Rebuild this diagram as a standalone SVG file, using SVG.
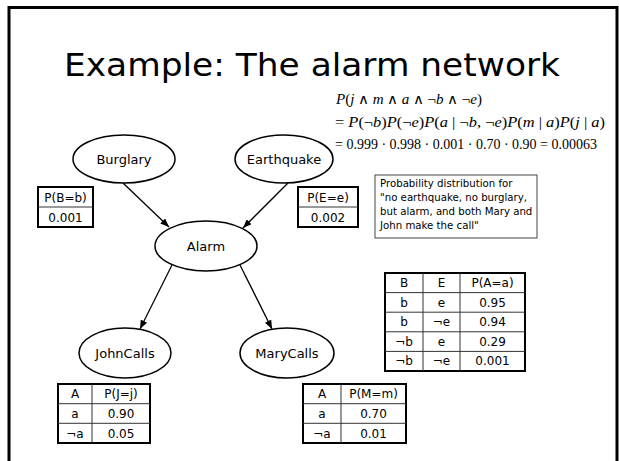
<svg xmlns="http://www.w3.org/2000/svg" width="619" height="461" viewBox="0 0 619 461">
<style>
  .lbl{font-family:"DejaVu Sans","Liberation Sans",sans-serif;font-size:13px;fill:#000;text-anchor:middle}
  .node ellipse{fill:#fff;stroke:#000;stroke-width:1.5}
  .edge{stroke:#000;stroke-width:1.3;fill:none;marker-end:url(#arr)}
  .outer{fill:#fff;stroke:#000;stroke-width:2}
  .grid{stroke:#333;stroke-width:1}
  .cell{font-family:"DejaVu Sans","Liberation Sans",sans-serif;font-size:12px;text-anchor:middle;fill:#000}
  .note{font-family:"DejaVu Sans","Liberation Sans",sans-serif;font-size:10.2px;fill:#000}
  .math{font-family:"Liberation Serif","Times New Roman",serif;font-size:14px;fill:#000}
  .i{font-style:italic}
</style>
<defs>
  <marker id="arr" viewBox="0 0 10 8" refX="10" refY="4" markerWidth="9" markerHeight="7" markerUnits="userSpaceOnUse" orient="auto">
    <path d="M0,0 L10,4 L0,8 z" fill="#000"/>
  </marker>
</defs>
<rect width="619" height="461" fill="#fff"/>
<!-- slide frame, open at the bottom -->
<path d="M9,462 V7.5 H617 V462" fill="none" stroke="#000" stroke-width="3"/>

<text x="312" y="76" font-family="DejaVu Sans, sans-serif" font-size="32" text-anchor="middle" textLength="496" lengthAdjust="spacingAndGlyphs">Example: The alarm network</text>

<!-- joint probability computation -->
<g id="formula" class="math">
  <text x="336" y="104" textLength="146" lengthAdjust="spacingAndGlyphs"><tspan class="i">P</tspan>(<tspan class="i">j</tspan> ∧ <tspan class="i">m</tspan> ∧ <tspan class="i">a</tspan> ∧ ¬<tspan class="i">b</tspan> ∧ ¬<tspan class="i">e</tspan>)</text>
  <text x="335" y="127" textLength="270" lengthAdjust="spacingAndGlyphs">= <tspan class="i">P</tspan>(¬<tspan class="i">b</tspan>)<tspan class="i">P</tspan>(¬<tspan class="i">e</tspan>)<tspan class="i">P</tspan>(<tspan class="i">a</tspan> | ¬<tspan class="i">b</tspan>, ¬<tspan class="i">e</tspan>)<tspan class="i">P</tspan>(<tspan class="i">m</tspan> | <tspan class="i">a</tspan>)<tspan class="i">P</tspan>(<tspan class="i">j</tspan> | <tspan class="i">a</tspan>)</text>
  <text x="335" y="149" textLength="262" lengthAdjust="spacingAndGlyphs">= 0.999 · 0.998 · 0.001 · 0.70 · 0.90 = 0.00063</text>
</g>

<!-- connectors -->
<g id="edges">
  <line class="edge" x1="123" y1="183" x2="169" y2="227"/>
  <line class="edge" x1="288" y1="183" x2="243" y2="228"/>
  <line class="edge" x1="172" y1="265" x2="140" y2="329"/>
  <line class="edge" x1="240" y1="265" x2="272" y2="329"/>
</g>

<!-- nodes -->
<g id="burglary" class="node">
  <ellipse cx="124" cy="159" rx="51" ry="24"/>
  <text class="lbl" x="124" y="164">Burglary</text>
</g>
<g id="earthquake" class="node">
  <ellipse cx="284" cy="159" rx="49" ry="24"/>
  <text class="lbl" x="284" y="164">Earthquake</text>
</g>
<g id="alarm" class="node">
  <ellipse cx="206" cy="246" rx="51" ry="25"/>
  <text class="lbl" x="206" y="251">Alarm</text>
</g>
<g id="johncalls" class="node">
  <ellipse cx="125" cy="353" rx="46" ry="25"/>
  <text class="lbl" x="125" y="358">JohnCalls</text>
</g>
<g id="marycalls" class="node">
  <ellipse cx="287" cy="353" rx="47" ry="25"/>
  <text class="lbl" x="287" y="358">MaryCalls</text>
</g>

<!-- conditional probability tables -->
<g id="cpt-b">
  <rect class="outer" x="38" y="187" width="55" height="40"/>
  <line class="grid" x1="38" y1="207" x2="93" y2="207"/>
  <text class="cell" x="65.5" y="202">P(B=b)</text>
  <text class="cell" x="65.5" y="222">0.001</text>
</g>
<g id="cpt-e">
  <rect class="outer" x="298" y="187" width="60" height="40"/>
  <line class="grid" x1="298" y1="207" x2="358" y2="207"/>
  <text class="cell" x="328" y="202">P(E=e)</text>
  <text class="cell" x="328" y="222">0.002</text>
</g>
<g id="cpt-a">
  <rect class="outer" x="385" y="273" width="140" height="98"/>
  <line class="grid" x1="423" y1="273" x2="423" y2="371"/>
  <line class="grid" x1="460" y1="273" x2="460" y2="371"/>
  <line class="grid" x1="385" y1="292.6" x2="525" y2="292.6"/>
  <line class="grid" x1="385" y1="312.2" x2="525" y2="312.2"/>
  <line class="grid" x1="385" y1="331.8" x2="525" y2="331.8"/>
  <line class="grid" x1="385" y1="351.4" x2="525" y2="351.4"/>
  <text class="cell" x="404" y="287">B</text><text class="cell" x="441.5" y="287">E</text><text class="cell" x="492.5" y="287">P(A=a)</text>
  <text class="cell" x="404" y="307">b</text><text class="cell" x="441.5" y="307">e</text><text class="cell" x="492.5" y="307">0.95</text>
  <text class="cell" x="404" y="326">b</text><text class="cell" x="441.5" y="326">¬e</text><text class="cell" x="492.5" y="326">0.94</text>
  <text class="cell" x="404" y="346">¬b</text><text class="cell" x="441.5" y="346">e</text><text class="cell" x="492.5" y="346">0.29</text>
  <text class="cell" x="404" y="365">¬b</text><text class="cell" x="441.5" y="365">¬e</text><text class="cell" x="492.5" y="365">0.001</text>
</g>
<g id="cpt-j">
  <rect class="outer" x="58" y="384" width="92" height="59"/>
  <line class="grid" x1="92" y1="384" x2="92" y2="443"/>
  <line class="grid" x1="58" y1="403.7" x2="150" y2="403.7"/>
  <line class="grid" x1="58" y1="423.3" x2="150" y2="423.3"/>
  <text class="cell" x="75" y="398">A</text><text class="cell" x="121" y="398">P(J=j)</text>
  <text class="cell" x="75" y="418">a</text><text class="cell" x="121" y="418">0.90</text>
  <text class="cell" x="75" y="438">¬a</text><text class="cell" x="121" y="438">0.05</text>
</g>
<g id="cpt-m">
  <rect class="outer" x="303" y="384" width="103" height="59"/>
  <line class="grid" x1="341" y1="384" x2="341" y2="443"/>
  <line class="grid" x1="303" y1="403.7" x2="406" y2="403.7"/>
  <line class="grid" x1="303" y1="423.3" x2="406" y2="423.3"/>
  <text class="cell" x="322" y="398">A</text><text class="cell" x="373.5" y="398">P(M=m)</text>
  <text class="cell" x="322" y="418">a</text><text class="cell" x="373.5" y="418">0.70</text>
  <text class="cell" x="322" y="438">¬a</text><text class="cell" x="373.5" y="438">0.01</text>
</g>

<!-- explanatory note -->
<g id="note">
  <rect x="375" y="175" width="162" height="63" fill="#fff" stroke="#444" stroke-width="1"/>
  <text class="note" x="380" y="187">Probability distribution for</text>
  <text class="note" x="380" y="201">"no earthquake, no burglary,</text>
  <text class="note" x="380" y="215">but alarm, and both Mary and</text>
  <text class="note" x="380" y="229">John make the call"</text>
</g>
</svg>
